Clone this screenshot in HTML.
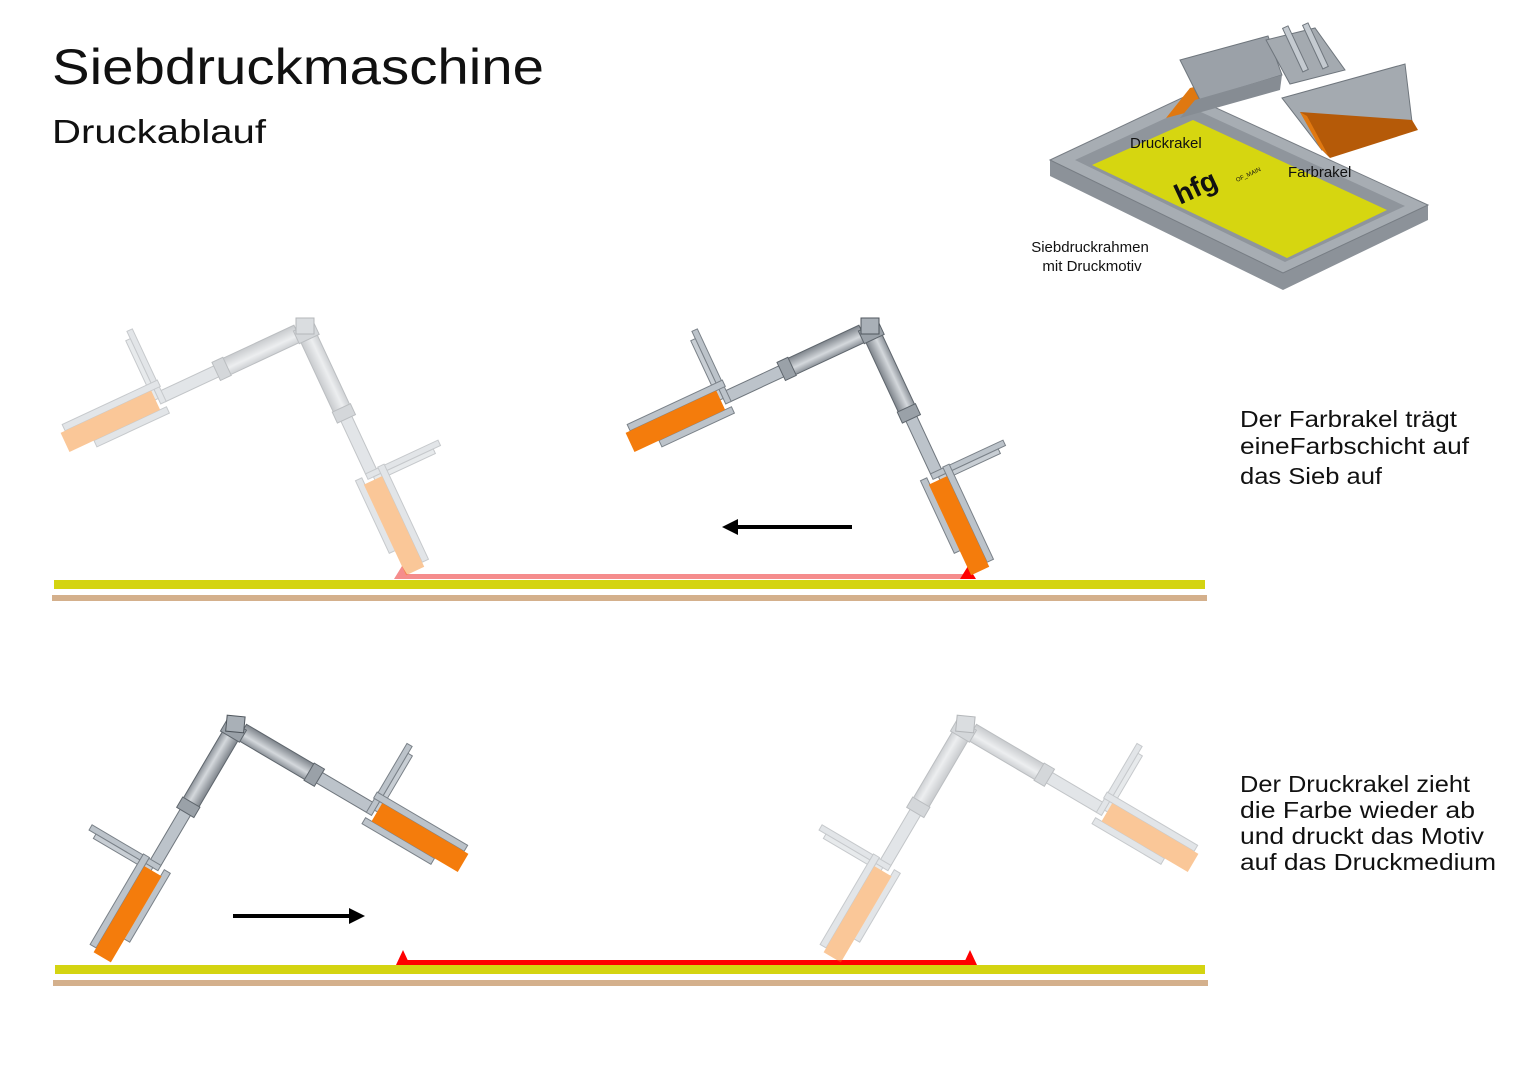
<!DOCTYPE html>
<html><head><meta charset="utf-8"><style>
html,body{margin:0;padding:0;background:#fff;}
svg{display:block;font-family:"Liberation Sans",sans-serif;}
</style></head><body>
<svg width="1527" height="1080" viewBox="0 0 1527 1080" xmlns="http://www.w3.org/2000/svg">
<defs>
<linearGradient id="cyl" x1="0" y1="0" x2="0" y2="1">
<stop offset="0" stop-color="#8d939a"/><stop offset="0.4" stop-color="#d4d8dc"/><stop offset="1" stop-color="#7f858c"/>
</linearGradient>
<g id="armA">
  <rect x="95" y="-6" width="62" height="12" fill="#bcc3ca" stroke="#6f767d" stroke-width="1"/>
  <rect x="8" y="-9" width="88" height="18" fill="url(#cyl)" stroke="#5f666d" stroke-width="1"/>
  <rect x="86" y="-10" width="12" height="20" fill="#9aa1a8" stroke="#5f666d"/>
  <rect x="-4" y="-11" width="14" height="22" fill="#9aa1a8" stroke="#5f666d"/>
  <rect x="156" y="-74" width="6" height="80" fill="#bcc3ca" stroke="#7a8188"/>
  <rect x="162" y="-66" width="5" height="66" fill="#c8ced4" stroke="#7a8188"/>
  <rect x="155" y="-15" width="105" height="7" fill="#bcc3ca" stroke="#7a8188"/>
  <rect x="158" y="11" width="80" height="7" fill="#bcc3ca" stroke="#7a8188"/>
  <rect x="165" y="-8" width="100" height="20" fill="#f47c0c"/>
</g>
<g id="armB">
  <rect x="95" y="-6" width="62" height="12" fill="#bcc3ca" stroke="#6f767d" stroke-width="1"/>
  <rect x="8" y="-9" width="88" height="18" fill="url(#cyl)" stroke="#5f666d" stroke-width="1"/>
  <rect x="86" y="-10" width="12" height="20" fill="#9aa1a8" stroke="#5f666d"/>
  <rect x="156" y="-6" width="6" height="80" fill="#bcc3ca" stroke="#7a8188"/>
  <rect x="162" y="0" width="5" height="66" fill="#c8ced4" stroke="#7a8188"/>
  <rect x="155" y="10" width="105" height="7" fill="#bcc3ca" stroke="#7a8188"/>
  <rect x="158" y="-18" width="80" height="7" fill="#bcc3ca" stroke="#7a8188"/>
  <rect x="165" y="-11" width="100" height="21" fill="#f47c0c"/>
</g>
<g id="mech">
  <g transform="rotate(155)"><use href="#armB"/></g>
  <g transform="rotate(65)"><use href="#armA"/></g>
  <rect x="-9" y="-12" width="18" height="16" fill="#a9b0b7" stroke="#4f565d"/>
</g>
</defs>

<text x="52" y="84" font-size="50" fill="#111" textLength="492" lengthAdjust="spacingAndGlyphs">Siebdruckmaschine</text>
<text x="52" y="143" font-size="33" fill="#111" textLength="214" lengthAdjust="spacingAndGlyphs">Druckablauf</text>

<!-- 3D frame -->
<polygon points="1050,160 1050,176 1283,290 1428,220 1428,205 1283,273" fill="#8c9299"/>
<polygon points="1050,160 1188,95 1428,205 1283,273" fill="#a7adb3" stroke="#777d84"/>
<polygon points="1075,160 1190,107 1405,206 1285,262" fill="#8f959c"/>
<polygon points="1092,165 1193,120 1387,210 1287,258" fill="#d6d610"/>
<text x="1180" y="205" font-size="28" font-weight="bold" fill="#111" transform="rotate(-25 1180 205)">hfg</text>
<text x="1237" y="182" font-size="6" fill="#111" transform="rotate(-25 1237 182)">OF_MAIN</text>
<!-- Druckrakel squeegee -->
<polygon points="1166,118 1190,88 1275,68 1272,90" fill="#e07810"/>
<polygon points="1180,60 1268,36 1282,75 1200,100" fill="#9ba1a8" stroke="#6f767d"/>
<polygon points="1195,100 1282,75 1280,90 1180,118" fill="#868c93"/>
<polygon points="1266,40 1315,28 1345,70 1290,84" fill="#a4aab0" stroke="#6f767d"/>
<rect x="1292" y="25" width="6" height="48" fill="#c4cad0" stroke="#6f767d" transform="rotate(-25 1295 48)"/>
<rect x="1312" y="22" width="6" height="48" fill="#c4cad0" stroke="#6f767d" transform="rotate(-25 1315 45)"/>
<!-- Farbrakel squeegee -->
<polygon points="1282,98 1405,64 1412,122 1322,150" fill="#a4aab0" stroke="#6f767d"/>
<polygon points="1300,112 1322,150 1330,158 1418,130 1412,120" fill="#b55a08"/>
<polygon points="1300,112 1320,148 1328,155 1307,116" fill="#e07810"/>
<text x="1130" y="148" font-size="15" fill="#111">Druckrakel</text>
<text x="1288" y="177" font-size="15" fill="#111">Farbrakel</text>
<text x="1090" y="252" font-size="15" fill="#111" text-anchor="middle">Siebdruckrahmen</text>
<text x="1092" y="271" font-size="15" fill="#111" text-anchor="middle">mit Druckmotiv</text>

<!-- Row 1 -->
<rect x="54" y="580" width="1151" height="9" fill="#d4d411"/>
<rect x="52" y="595" width="1155" height="6" fill="#d4b08c"/>
<rect x="400" y="574" width="568" height="5" fill="#f58c8c"/>
<polygon points="394,579 402,566 410,579" fill="#f58c8c"/>
<polygon points="960,579 968,566 976,579" fill="#f00"/>
<g opacity="0.42" transform="translate(305,330)"><use href="#mech"/></g>
<g transform="translate(870,330)"><use href="#mech"/></g>
<line x1="852" y1="527" x2="735" y2="527" stroke="#000" stroke-width="4"/>
<polygon points="722,527 738,519 738,535" fill="#000"/>

<text x="1240" y="427" font-size="23" fill="#111" textLength="217" lengthAdjust="spacingAndGlyphs">Der Farbrakel trägt</text>
<text x="1240" y="454" font-size="23" fill="#111" textLength="229" lengthAdjust="spacingAndGlyphs">eineFarbschicht auf</text>
<text x="1240" y="484" font-size="23" fill="#111" textLength="142" lengthAdjust="spacingAndGlyphs">das Sieb auf</text>

<!-- Row 2 -->
<rect x="55" y="965" width="1150" height="9" fill="#d4d411"/>
<rect x="53" y="980" width="1155" height="6" fill="#d4b08c"/>
<rect x="402" y="960" width="568" height="5" fill="#f00"/>
<polygon points="396,965 403,950 410,965" fill="#f00"/>
<polygon points="963,965 970,950 977,965" fill="#f00"/>
<g transform="translate(235,728) rotate(5.5) scale(-1,1)"><use href="#mech"/></g>
<g opacity="0.42" transform="translate(965,728) rotate(5.5) scale(-1,1)"><use href="#mech"/></g>
<line x1="233" y1="916" x2="352" y2="916" stroke="#000" stroke-width="4"/>
<polygon points="365,916 349,908 349,924" fill="#000"/>

<text x="1240" y="792" font-size="23" fill="#111" textLength="230" lengthAdjust="spacingAndGlyphs">Der Druckrakel zieht</text>
<text x="1240" y="818" font-size="23" fill="#111" textLength="235" lengthAdjust="spacingAndGlyphs">die Farbe wieder ab</text>
<text x="1240" y="844" font-size="23" fill="#111" textLength="244" lengthAdjust="spacingAndGlyphs">und druckt das Motiv</text>
<text x="1240" y="870" font-size="23" fill="#111" textLength="256" lengthAdjust="spacingAndGlyphs">auf das Druckmedium</text>
</svg>
</body></html>
